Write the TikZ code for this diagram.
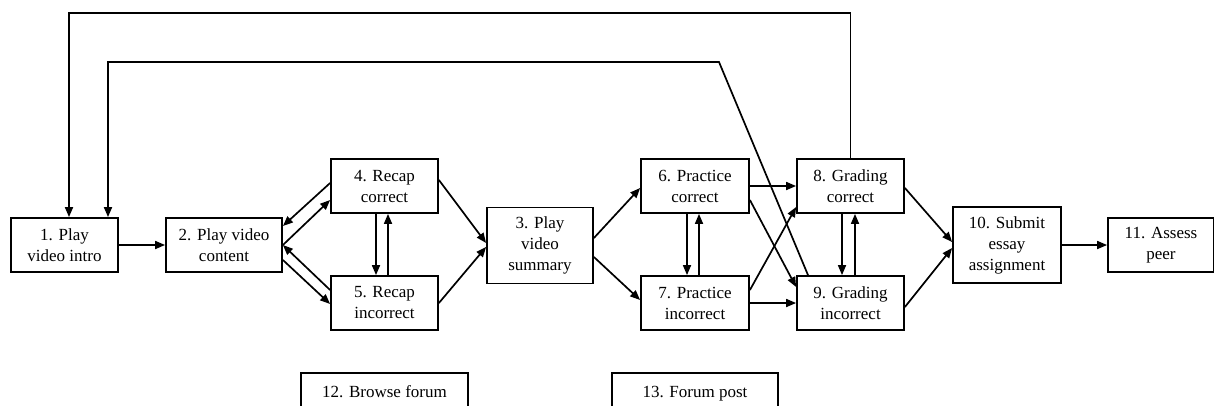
\documentclass[tikz,border=0pt]{standalone}
\usepackage{fontspec}
\setmainfont{Liberation Serif}
\usetikzlibrary{arrows.meta}
\begin{document}
\begin{tikzpicture}[x=1pt,y=-1pt,
  box/.style={draw, line width=1.8pt, align=center, inner sep=0pt,
    minimum height=54pt, font=\fontsize{17}{21}\selectfont},
  tallbox/.style={box, minimum height=76pt},
  forumbox/.style={draw, line width=1.8pt, anchor=base, inner xsep=0pt,
    inner ysep=4pt, text height=20pt, text depth=30pt,
    font=\fontsize{17}{21}\selectfont},
  arr/.style={line width=1.7pt, -{Triangle[length=10pt,width=8pt]}},
  link/.style={line width=1.7pt}]
\useasboundingbox (0,0) rectangle (1214,405);

% activity boxes
\node[box, minimum width=107pt] (n1) at (64.5,245) {1. Play\\video intro};
\node[box, minimum width=116pt] (n2) at (224,245) {2. Play video\\content};
\node[box, minimum width=107pt] (n4) at (384.5,186) {4. Recap\\correct};
\node[box, minimum width=107pt] (n5) at (384.5,303) {5. Recap\\incorrect};
\node[tallbox, minimum width=106pt] (n3) at (540,245.5) {3. Play\\video\\summary};
\node[box, minimum width=108pt] (n6) at (695,186) {6. Practice\\correct};
\node[box, minimum width=108pt] (n7) at (695,303) {7. Practice\\incorrect};
\node[box, minimum width=107pt] (n8) at (850.5,186) {8. Grading\\correct};
\node[box, minimum width=107pt] (n9) at (850.5,303) {9. Grading\\incorrect};
\node[tallbox, minimum width=108pt] (n10) at (1007,245) {10. Submit\\essay\\assignment};
\node[box, minimum width=106pt] (n11) at (1161,245) {11. Assess\\peer};
\node[forumbox, minimum width=167pt] (n12) at (384.5,397) {12. Browse forum};
\node[forumbox, minimum width=166pt] (n13) at (695,397) {13. Forum post};

% corner of the inner feedback loop
\coordinate (bend) at (719,62);

% intro to content
\draw[arr] (n1.east) -- (n2.west);

% content <-> recap
\draw[arr] ([yshift=3pt]n4.west) -- ([yshift=19pt]n2.east);
\draw[arr] (n2.east) -- ([yshift=-14pt]n4.west);
\draw[arr] ([yshift=13pt]n5.west) -- (n2.east);
\draw[arr] ([yshift=-15pt]n2.east) -- ([yshift=-1pt]n5.west);
\draw[arr] ([xshift=-8.5pt]n4.south) -- ([xshift=-8.5pt]n5.north);
\draw[arr] ([xshift=3.5pt]n5.north) -- ([xshift=3.5pt]n4.south);

% recap to summary
\draw[arr] ([yshift=6pt]n4.east) -- ([yshift=2.5pt]n3.west);
\draw[arr] (n5.east) -- ([yshift=-1.5pt]n3.west);

% summary to practice
\draw[arr] ([yshift=7.5pt]n3.east) -- ([yshift=-2pt]n6.west);
\draw[arr] ([yshift=-11.5pt]n3.east) -- ([yshift=3pt]n7.west);
\draw[arr] ([xshift=-8pt]n6.south) -- ([xshift=-8pt]n7.north);
\draw[arr] ([xshift=4pt]n7.north) -- ([xshift=4pt]n6.south);

% practice to grading
\draw[arr] (n6.east) -- (n8.west);
\draw[arr] ([yshift=-14pt]n6.east) -- ([yshift=16pt]n9.west);
\draw[arr] ([yshift=13pt]n7.east) -- ([yshift=-21pt]n8.west);
\draw[arr] (n7.east) -- (n9.west);
\draw[arr] ([xshift=-8.5pt]n8.south) -- ([xshift=-8.5pt]n9.north);
\draw[arr] ([xshift=4.5pt]n9.north) -- ([xshift=4.5pt]n8.south);

% grading to essay, essay to peer review
\draw[arr] ([yshift=-2pt]n8.east) -- ([yshift=3pt]n10.west);
\draw[arr] ([yshift=-4pt]n9.east) -- ([yshift=-3pt]n10.west);
\draw[arr] (n10.east) -- (n11.west);

% feedback loops back to the intro
\draw[arr] (n8.north) -- ++(0,-145) -| ([xshift=4.5pt]n1.north);
\draw[arr] ([xshift=-42.5pt]n9.north) -- (bend) -| ([xshift=43.5pt]n1.north);
\end{tikzpicture}
\end{document}
